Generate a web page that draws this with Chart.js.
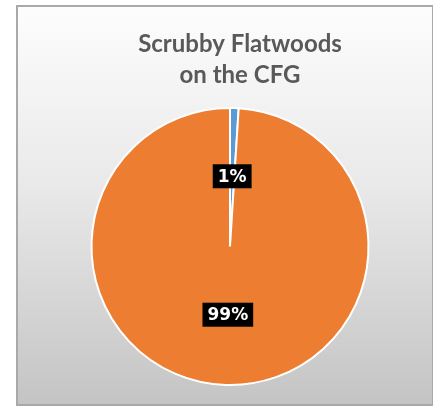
<!DOCTYPE html>
<html>
<head>
<meta charset="utf-8">
<script src="https://cdn.jsdelivr.net/npm/chart.js@4"></script>
<style>
  html, body { margin: 0; padding: 0; background: #ffffff; }
  #frame {
    position: absolute; left: 16px; top: 5px; width: 418px; height: 401px;
    box-sizing: border-box; border: 2px solid #a9a9a9;
    background: linear-gradient(to bottom, #fdfdfd 0%, #e9e9e9 45%, #c4c4c4 100%);
  }
  #wrap { position: absolute; left: 0; top: 0; width: 433px; height: 407px; }
</style>
</head>
<body>
<div id="frame"></div>
<div id="wrap"><canvas id="pieChart"></canvas></div>
<script>
const categories = ["Scrubby Flatwoods", "Other"];
const values = [1, 99];
const colors = ["#5b9bd5", "#ed7d31"];
const titleLines = ["Scrubby Flatwoods", "on the CFG"];

// title sits a bit right of the pie centre, so draw it here
const chartTitle = {
  id: "chartTitle",
  afterDraw(chart) {
    const ctx = chart.ctx;
    ctx.save();
    ctx.font = "bold 24px Lato";
    ctx.fillStyle = "#595959";
    ctx.textAlign = "center";
    ctx.textBaseline = "middle";
    titleLines.forEach((line, i) => {
      ctx.fillText(line, 240, 44 + i * 31);
    });
    ctx.restore();
  }
};

// black boxed percentage labels in the middle of each slice
const boxLabels = {
  id: "boxLabels",
  afterDatasetsDraw(chart) {
    const ctx = chart.ctx;
    const meta = chart.getDatasetMeta(0);
    const total = values.reduce((a, b) => a + b, 0);
    ctx.save();
    ctx.font = "bold 17px 'DejaVu Sans'";
    ctx.textAlign = "center";
    ctx.textBaseline = "middle";
    meta.data.forEach((arc, i) => {
      const pos = arc.tooltipPosition();
      const text = Math.round(values[i] / total * 100) + "%";
      const w = ctx.measureText(text).width + 10;
      const h = 24;
      ctx.fillStyle = "#000000";
      ctx.fillRect(pos.x - w / 2, pos.y - h / 2 - 1, w, h);
      ctx.fillStyle = "#ffffff";
      ctx.fillText(text, pos.x, pos.y);
    });
    ctx.restore();
  }
};

new Chart(document.getElementById("pieChart").getContext("2d"), {
  type: "pie",
  data: {
    labels: categories,
    datasets: [{
      data: values,
      backgroundColor: colors,
      borderColor: "#ffffff",
      borderWidth: 2
    }]
  },
  options: {
    responsive: true,
    maintainAspectRatio: false,
    animation: false,
    layout: { padding: { left: 27, right: 0, top: 107, bottom: 21 } },
    plugins: {
      legend: { display: false },
      tooltip: { enabled: false },
      title: { display: false }
    }
  },
  plugins: [boxLabels, chartTitle]
});
</script>
</body>
</html>
